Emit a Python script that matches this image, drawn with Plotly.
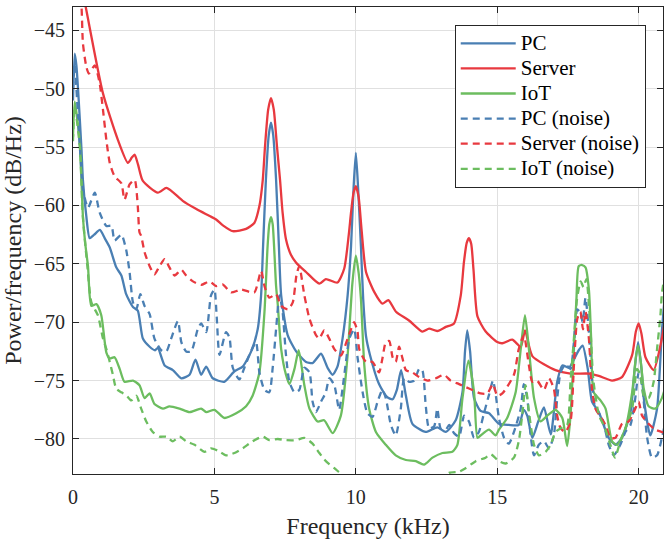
import plotly.graph_objects as go

# ---------------- data ----------------
pc_f = [0.0, 0.06, 0.12, 0.18, 0.3, 0.35, 0.47, 0.59, 0.75, 0.95, 1.12, 1.3, 1.53, 1.71, 1.88, 2.12, 2.29, 2.47, 2.71, 2.9, 3.0, 3.24, 3.53, 3.83, 4.12, 4.33, 4.53, 4.71, 4.94, 5.35, 5.71, 6.0, 6.3, 6.53, 6.65, 6.72, 6.82, 6.92, 7.0, 7.08, 7.18, 7.28, 7.36, 7.59, 7.89, 8.24, 8.47, 8.77, 9.0, 9.18, 9.35, 9.53, 9.71, 9.83, 9.92, 10.0, 10.08, 10.18, 10.26, 10.36, 10.5, 10.82, 11.1, 11.3, 11.45, 11.6, 11.77, 12.0, 12.47, 12.88, 13.18, 13.53, 13.77, 13.86, 13.94, 14.04, 14.18, 14.41, 14.71, 15.06, 15.41, 15.76, 15.94, 16.06, 16.24, 16.45, 16.65, 16.89, 17.12, 17.3, 17.53, 17.71, 17.88, 18.02, 18.2, 18.35, 18.59, 18.94, 19.18, 19.41, 19.71, 19.86, 19.98, 20.1, 20.18, 20.41, 20.65, 20.82, 20.95]
pc_db = [-51.0, -47.0, -48.0, -50.1, -55.2, -57.8, -60.9, -62.8, -62.5, -62.1, -62.8, -63.6, -65.3, -66.0, -67.6, -68.7, -69.0, -71.4, -72.1, -72.4, -72.2, -73.7, -74.1, -74.8, -74.5, -73.2, -74.5, -73.8, -74.8, -75.1, -74.2, -73.8, -72.5, -70.6, -67.7, -63.5, -57.8, -54.0, -52.9, -54.0, -57.8, -63.5, -67.7, -71.1, -72.5, -73.4, -73.5, -72.7, -73.9, -74.5, -73.8, -71.4, -67.7, -63.5, -58.5, -55.5, -58.5, -63.5, -68.0, -71.2, -72.8, -75.3, -76.4, -76.6, -75.8, -74.1, -76.3, -78.7, -79.4, -79.0, -79.4, -78.4, -76.0, -72.5, -70.7, -72.5, -76.5, -77.6, -77.8, -78.7, -78.8, -78.8, -77.5, -78.0, -79.9, -78.5, -77.3, -79.6, -75.1, -73.7, -73.9, -73.2, -72.4, -72.0, -74.0, -76.8, -77.7, -79.9, -80.5, -79.9, -77.7, -74.0, -71.7, -74.0, -76.5, -79.7, -77.4, -70.8, -67.0]

srv_f = [0.0, 0.2, 0.45, 1.06, 1.59, 1.94, 2.08, 2.18, 2.3, 2.47, 3.0, 3.3, 3.55, 3.88, 4.36, 4.83, 5.06, 5.3, 5.65, 6.12, 6.41, 6.59, 6.71, 6.79, 6.9, 7.0, 7.1, 7.21, 7.32, 7.41, 7.53, 7.7, 7.89, 8.24, 8.71, 8.94, 9.35, 9.59, 9.75, 9.83, 9.92, 10.0, 10.1, 10.2, 10.36, 10.65, 10.94, 11.15, 11.42, 11.88, 12.35, 12.59, 12.88, 13.18, 13.47, 13.71, 13.82, 13.92, 14.0, 14.08, 14.16, 14.3, 14.59, 15.0, 15.18, 15.53, 15.83, 15.98, 16.24, 17.06, 17.59, 18.24, 18.59, 19.06, 19.41, 19.77, 19.9, 20.0, 20.1, 20.24, 20.53, 20.82, 20.95]
srv_db = [-36.0, -40.0, -43.0, -50.4, -54.4, -56.35, -55.9, -55.65, -56.5, -57.9, -58.9, -58.5, -58.9, -59.6, -60.3, -60.9, -61.2, -61.7, -62.2, -62.0, -61.5, -60.05, -57.8, -54.9, -51.8, -50.8, -51.8, -54.9, -57.8, -60.6, -62.9, -64.2, -64.9, -65.7, -66.7, -66.3, -66.6, -65.4, -62.5, -60.6, -58.9, -58.35, -59.3, -62.0, -65.7, -67.4, -68.4, -68.1, -69.1, -69.85, -70.8, -70.55, -70.75, -70.4, -70.1, -67.7, -64.9, -63.2, -62.8, -63.3, -65.5, -69.5, -70.8, -71.7, -71.8, -71.5, -72.1, -70.7, -72.9, -74.1, -74.4, -74.4, -74.6, -75.0, -74.7, -72.8, -70.8, -70.1, -71.0, -73.0, -74.1, -71.4, -69.5]

iot_f = [0.0, 0.06, 0.24, 0.35, 0.44, 0.53, 0.65, 0.83, 1.0, 1.18, 1.3, 1.47, 1.65, 1.82, 2.12, 2.35, 2.53, 2.71, 2.88, 3.18, 3.41, 3.77, 4.12, 4.53, 4.71, 5.0, 5.35, 5.77, 6.12, 6.35, 6.59, 6.77, 6.88, 6.94, 7.0, 7.06, 7.18, 7.24, 7.36, 7.53, 7.65, 7.83, 7.98, 8.18, 8.36, 8.65, 8.88, 9.18, 9.47, 9.71, 9.88, 10.0, 10.1, 10.18, 10.3, 10.47, 10.71, 11.06, 11.41, 11.77, 12.12, 12.41, 12.71, 13.06, 13.41, 13.59, 13.77, 13.98, 14.18, 14.3, 14.41, 14.71, 14.94, 15.06, 15.35, 15.65, 15.83, 15.98, 16.12, 16.3, 16.53, 16.77, 17.06, 17.3, 17.47, 17.59, 17.71, 17.8, 17.88, 18.0, 18.12, 18.24, 18.32, 18.41, 18.65, 18.83, 19.06, 19.24, 19.53, 19.77, 19.9, 19.98, 20.08, 20.18, 20.35, 20.59, 20.82, 20.95]
iot_db = [-54.1, -51.1, -54.65, -60.9, -63.4, -65.2, -68.6, -68.45, -69.4, -72.6, -73.1, -73.0, -74.0, -75.1, -75.0, -75.4, -76.5, -76.1, -77.0, -77.4, -77.2, -77.4, -77.7, -77.4, -77.7, -77.5, -78.2, -77.8, -77.2, -76.3, -74.3, -69.1, -63.5, -61.6, -61.0, -61.6, -66.9, -68.5, -72.3, -74.5, -75.3, -74.0, -72.4, -75.4, -77.4, -78.5, -78.4, -79.5, -78.0, -72.8, -66.6, -64.3, -65.8, -68.0, -73.7, -77.4, -79.4, -80.5, -81.4, -81.8, -81.9, -82.2, -81.6, -81.2, -81.1, -80.5, -76.5, -73.3, -76.0, -79.9, -79.7, -79.2, -79.7, -79.2, -78.2, -76.0, -72.3, -69.4, -72.3, -76.5, -78.5, -78.0, -77.5, -78.2, -80.6, -78.0, -72.3, -68.0, -65.2, -65.1, -65.3, -67.2, -71.4, -76.0, -76.7, -77.4, -80.2, -80.5, -79.1, -76.0, -73.0, -72.0, -73.5, -75.7, -77.2, -77.4, -76.5, -75.5]

pcn_f = [0.0, 0.06, 0.18, 0.3, 0.35, 0.53, 0.77, 0.94, 1.18, 1.36, 1.47, 1.71, 1.88, 2.0, 2.12, 2.24, 2.38, 2.53, 2.71, 2.88, 3.12, 3.3, 3.47, 3.71, 3.83, 4.0, 4.18, 4.41, 4.53, 4.71, 4.88, 5.0, 5.08, 5.18, 5.41, 5.53, 5.65, 5.88, 6.06, 6.24, 6.47, 6.59, 6.77, 6.94, 7.06, 7.18, 7.3, 7.41, 7.53, 7.65, 7.83, 8.0, 8.18, 8.36, 8.47, 8.59, 8.77, 8.94, 9.06, 9.24, 9.41, 9.53, 9.65, 9.77, 9.94, 10.06, 10.24, 10.41, 10.59, 10.77, 10.94, 11.06, 11.24, 11.41, 11.59, 11.71, 11.88, 12.06, 12.24, 12.35, 12.47, 12.59, 12.77, 12.88, 13.0, 13.18, 13.3, 13.47, 13.65, 13.83, 14.0, 14.18, 14.35, 14.53, 14.71, 14.85, 14.95, 15.06, 15.24, 15.41, 15.59, 15.83, 15.94, 16.06, 16.18, 16.3, 16.47, 16.65, 16.83, 17.0, 17.12, 17.24, 17.41, 17.59, 17.71, 17.83, 17.94, 18.02, 18.12, 18.24, 18.35, 18.47, 18.71, 18.94, 19.12, 19.35, 19.53, 19.71, 19.88, 20.0, 20.12, 20.3, 20.47, 20.65, 20.82, 20.95]
pcn_db = [-50.0, -48.0, -52.5, -57.2, -58.6, -60.2, -58.9, -60.6, -61.75, -61.75, -63.0, -62.5, -63.8, -65.7, -68.3, -68.9, -67.6, -68.6, -69.3, -71.4, -72.4, -72.5, -71.4, -69.9, -71.7, -72.5, -72.5, -70.6, -70.1, -70.85, -67.7, -67.2, -69.5, -72.8, -70.85, -71.3, -73.9, -74.9, -73.9, -72.8, -71.7, -74.3, -75.8, -76.0, -73.9, -70.6, -67.7, -69.1, -72.8, -75.1, -76.0, -75.8, -73.9, -74.3, -76.8, -77.7, -76.8, -76.0, -74.8, -75.4, -77.5, -75.7, -73.4, -71.4, -70.6, -73.0, -76.0, -77.8, -78.1, -76.8, -75.8, -76.5, -78.8, -79.7, -77.4, -74.8, -75.1, -75.0, -74.0, -74.1, -77.1, -79.1, -78.9, -77.4, -79.1, -79.2, -78.8, -79.5, -79.8, -78.0, -78.5, -79.9, -79.4, -77.8, -76.2, -75.0, -76.3, -78.2, -79.9, -80.4, -79.4, -77.4, -75.3, -76.5, -79.7, -81.4, -80.5, -80.2, -80.8, -79.7, -76.5, -74.3, -73.6, -74.0, -71.7, -68.9, -69.2, -70.0, -67.9, -70.85, -75.1, -77.4, -78.2, -80.5, -81.4, -80.5, -79.4, -78.8, -76.5, -74.3, -75.4, -79.9, -81.6, -81.4, -79.9, -78.5]

srvn_f = [0.0, 0.15, 0.3, 0.35, 0.47, 0.56, 0.77, 0.94, 1.06, 1.18, 1.3, 1.47, 1.71, 1.82, 2.0, 2.18, 2.29, 2.35, 2.41, 2.53, 2.71, 2.88, 3.06, 3.24, 3.41, 3.59, 3.83, 4.0, 4.24, 4.53, 4.83, 5.06, 5.29, 5.59, 5.94, 6.41, 6.65, 6.77, 6.94, 7.18, 7.36, 7.6, 7.77, 7.9, 8.0, 8.18, 8.36, 8.59, 8.71, 8.88, 9.06, 9.24, 9.47, 9.71, 9.83, 9.94, 10.06, 10.12, 10.36, 10.59, 10.82, 10.94, 11.06, 11.18, 11.3, 11.41, 11.53, 11.65, 11.77, 12.0, 12.24, 12.53, 12.83, 13.12, 13.35, 13.65, 13.88, 14.12, 14.41, 14.65, 14.85, 15.0, 15.18, 15.59, 15.76, 15.94, 16.12, 16.24, 16.41, 16.65, 16.83, 17.0, 17.12, 17.24, 17.41, 17.59, 17.71, 17.83, 17.94, 18.03, 18.12, 18.24, 18.35, 18.47, 18.65, 18.83, 19.0, 19.18, 19.41, 19.65, 19.88, 20.0, 20.12, 20.35, 20.59, 20.82, 20.95]
srvn_db = [-36.0, -40.0, -43.0, -46.1, -48.1, -48.7, -48.0, -49.5, -51.8, -54.4, -56.35, -57.5, -58.1, -59.5, -58.2, -57.8, -60.05, -62.3, -62.6, -64.0, -65.2, -65.9, -65.2, -64.6, -65.3, -66.0, -65.5, -66.0, -66.5, -66.8, -66.5, -66.9, -66.75, -67.45, -67.2, -67.45, -65.6, -66.9, -67.9, -67.6, -68.6, -68.9, -68.3, -66.0, -65.2, -67.7, -69.7, -71.1, -71.4, -70.7, -71.4, -72.3, -72.85, -71.4, -70.6, -70.0, -70.8, -72.3, -73.4, -73.4, -74.3, -73.1, -71.7, -71.6, -73.0, -73.4, -72.1, -73.1, -74.1, -74.3, -74.7, -75.0, -74.8, -74.5, -75.0, -75.3, -75.55, -75.8, -76.1, -76.1, -75.3, -76.3, -76.1, -74.5, -72.3, -71.1, -73.7, -75.1, -75.0, -75.8, -74.8, -75.7, -78.0, -79.1, -79.4, -78.5, -73.7, -69.7, -69.1, -70.6, -69.1, -71.4, -75.7, -77.4, -78.1, -78.8, -79.9, -79.9, -78.7, -78.5, -77.4, -76.8, -78.0, -78.7, -79.2, -79.4, -79.5]

iotn_f = [0.0, 0.06, 0.24, 0.35, 0.5, 0.65, 0.88, 1.06, 1.18, 1.3, 1.41, 1.53, 1.71, 1.88, 2.06, 2.24, 2.41, 2.59, 2.82, 3.06, 3.3, 3.53, 3.77, 4.0, 4.3, 4.65, 4.88, 5.12, 5.41, 5.71, 6.0, 6.35, 6.71, 6.94, 7.24, 7.53, 7.89, 8.18, 8.47, 8.71, 8.94, 9.24, 9.53, 10.0, 11.0, 12.0, 12.8, 13.3, 13.65, 13.88, 14.24, 14.59, 14.77, 15.06, 15.29, 15.59, 15.76, 15.88, 16.0, 16.12, 16.3, 16.47, 16.71, 16.89, 17.06, 17.3, 17.47, 17.59, 17.71, 17.82, 17.95, 18.05, 18.15, 18.27, 18.4, 18.6, 18.8, 19.0, 19.16, 19.35, 19.53, 19.77, 19.94, 20.06, 20.18, 20.35, 20.53, 20.65, 20.77, 20.82, 20.95]
iotn_db = [-54.5, -51.5, -55.0, -61.0, -65.0, -68.3, -69.4, -71.4, -72.3, -73.4, -74.5, -75.7, -76.0, -76.25, -76.7, -76.3, -77.4, -78.5, -79.4, -79.8, -79.8, -80.2, -79.8, -80.2, -80.5, -81.1, -80.8, -81.0, -81.4, -81.2, -80.8, -80.2, -79.8, -80.1, -80.0, -80.1, -80.1, -79.9, -80.4, -81.2, -81.9, -82.5, -83.1, -84.0, -85.0, -85.0, -84.0, -82.9, -82.8, -82.5, -81.9, -81.6, -81.3, -81.9, -82.1, -81.6, -80.2, -78.0, -75.4, -77.7, -80.5, -81.4, -81.1, -80.5, -79.4, -79.0, -78.8, -75.1, -71.4, -68.0, -66.5, -67.0, -66.3, -69.5, -75.0, -78.0, -79.0, -80.5, -81.6, -80.2, -79.1, -77.4, -74.0, -74.5, -76.3, -76.5, -75.1, -72.3, -69.4, -67.6, -65.5]

series_names = ["PC", "Server", "IoT", "PC (noise)", "Server (noise)", "IoT (noise)"]
x_ticks = [0, 5, 10, 15, 20]
y_ticks = [-80, -75, -70, -65, -60, -55, -50, -45]
y_tick_text = ["\u221280", "\u221275", "\u221270", "\u221265", "\u221260", "\u221255", "\u221250", "\u221245"]

# ---------------- style ----------------
BLUE = "#4a7fb3"
RED = "#e8393f"
GREEN = "#6cbd5f"
FONT = "Liberation Serif"
AX = "#262626"
GRID = "#e0e0e0"
LEGEND_TEXT_PX = 21

traces = [
    (pc_f, pc_db, BLUE, "solid"),
    (srv_f, srv_db, RED, "solid"),
    (iot_f, iot_db, GREEN, "solid"),
    (pcn_f, pcn_db, BLUE, "7px,5px"),
    (srvn_f, srvn_db, RED, "7px,5px"),
    (iotn_f, iotn_db, GREEN, "7px,5px"),
]

fig = go.Figure()
for name, (xs, ys, col, dash) in zip(series_names, traces):
    fig.add_trace(go.Scatter(
        x=xs, y=ys, mode="lines",
        name=f'<span style="font-size:{LEGEND_TEXT_PX}px">{name}</span>',
        line=dict(color=col, width=2.3, dash=dash, shape="spline", smoothing=0.6),
    ))

axis_common = dict(
    showline=True, linecolor=AX, linewidth=1, mirror="ticks",
    ticks="inside", ticklen=6, tickcolor=AX, tickwidth=1,
    showgrid=True, gridcolor=GRID, gridwidth=1, zeroline=False,
    tickfont=dict(family=FONT, size=20, color="#262626"),
)

fig.update_xaxes(
    range=[0, 20.86], tickvals=x_ticks,
    title=dict(text="Frequency (kHz)", font=dict(family=FONT, size=24, color="#262626"), standoff=13),
    ticklabelstandoff=5,
    **axis_common,
)
fig.update_yaxes(
    range=[-83, -43], tickvals=y_ticks, ticktext=y_tick_text,
    title=dict(text="Power/frequency (dB/Hz)", font=dict(family=FONT, size=24, color="#262626"), standoff=6),
    ticklabelstandoff=3,
    **axis_common,
)

fig.update_layout(
    width=665, height=539,
    margin=dict(l=73, r=1, t=7, b=63),
    paper_bgcolor="white", plot_bgcolor="white",
    showlegend=True,
    legend=dict(
        x=0.647, y=0.962, xanchor="left", yanchor="top",
        bgcolor="white", bordercolor=AX, borderwidth=1,
        font=dict(family=FONT, size=17, color="black"),
        itemwidth=55, tracegroupgap=0,
    ),
)

fig.write_html("out.html")
